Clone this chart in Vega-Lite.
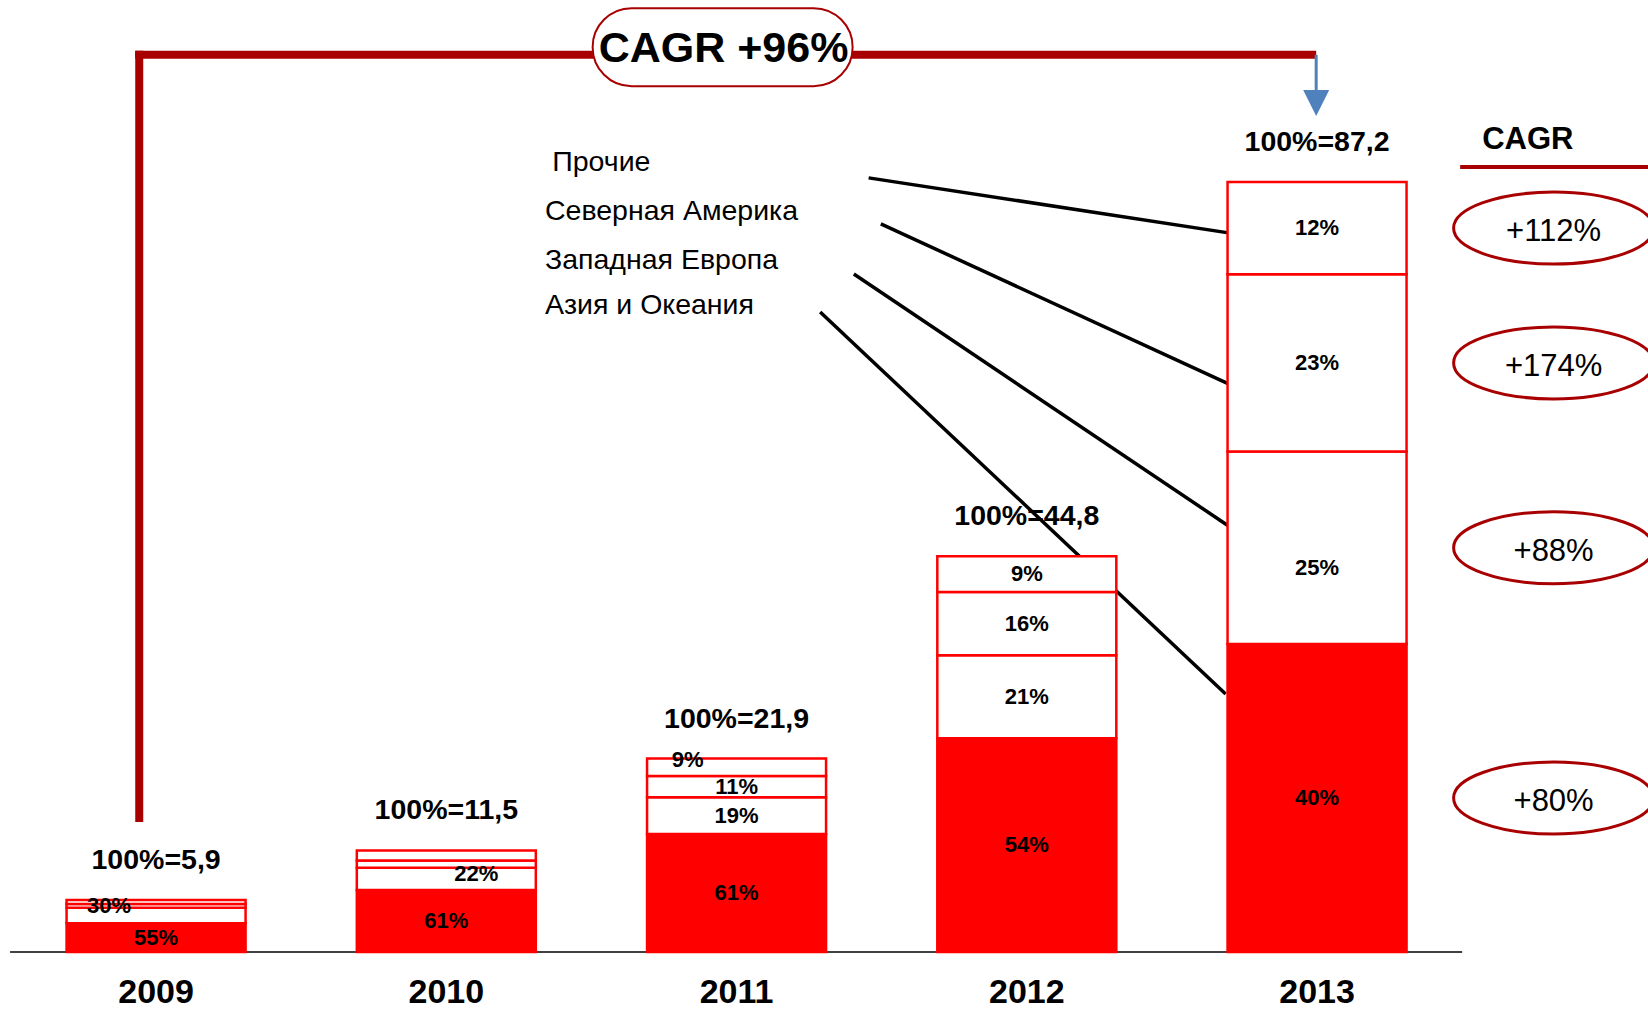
{
  "$schema": "https://vega.github.io/schema/vega-lite/v6.json",
  "width": 1648,
  "height": 1010,
  "autosize": {"type": "none"},
  "padding": 0,
  "background": "white",
  "config": {"view": {"stroke": null}, "font": "Liberation Sans"},
  "datasets": {
    "seg": [
      {"year": 2009, "region": "Азия и Океания", "value": 3.245, "label": "55%"},
      {"year": 2009, "region": "Западная Европа", "value": 1.77, "label": "30%"},
      {"year": 2009, "region": "Северная Америка", "value": 0.413, "label": ""},
      {"year": 2009, "region": "Прочие", "value": 0.472, "label": ""},
      {"year": 2010, "region": "Азия и Океания", "value": 7.015, "label": "61%"},
      {"year": 2010, "region": "Западная Европа", "value": 2.53, "label": "22%"},
      {"year": 2010, "region": "Северная Америка", "value": 0.805, "label": ""},
      {"year": 2010, "region": "Прочие", "value": 1.15, "label": ""},
      {"year": 2011, "region": "Азия и Океания", "value": 13.359, "label": "61%"},
      {"year": 2011, "region": "Западная Европа", "value": 4.161, "label": "19%"},
      {"year": 2011, "region": "Северная Америка", "value": 2.409, "label": "11%"},
      {"year": 2011, "region": "Прочие", "value": 1.971, "label": "9%"},
      {"year": 2012, "region": "Азия и Океания", "value": 24.192, "label": "54%"},
      {"year": 2012, "region": "Западная Европа", "value": 9.408, "label": "21%"},
      {"year": 2012, "region": "Северная Америка", "value": 7.168, "label": "16%"},
      {"year": 2012, "region": "Прочие", "value": 4.032, "label": "9%"},
      {"year": 2013, "region": "Азия и Океания", "value": 34.88, "label": "40%"},
      {"year": 2013, "region": "Западная Европа", "value": 21.8, "label": "25%"},
      {"year": 2013, "region": "Северная Америка", "value": 20.056, "label": "23%"},
      {"year": 2013, "region": "Прочие", "value": 10.464, "label": "12%"}
    ],
    "totals": [
      {"year": 2009, "total": 5.9, "label": "100%=5,9"},
      {"year": 2010, "total": 11.5, "label": "100%=11,5"},
      {"year": 2011, "total": 21.9, "label": "100%=21,9"},
      {"year": 2012, "total": 44.8, "label": "100%=44,8"},
      {"year": 2013, "total": 87.2, "label": "100%=87,2"}
    ],
    "leaders": [
      {"x": 2011.455, "y": 87.66, "x2": 2012.695, "y2": 81.43},
      {"x": 2011.497, "y": 82.45, "x2": 2012.695, "y2": 64.33},
      {"x": 2011.404, "y": 76.78, "x2": 2012.695, "y2": 48.24},
      {"x": 2011.288, "y": 72.48, "x2": 2012.685, "y2": 29.22}
    ],
    "bracket": [
      {"x": 2008.942, "y": 14.72, "x2": 2008.942, "y2": 102.04},
      {"x": 2008.928, "y": 101.59, "x2": 2012.997, "y2": 101.59}
    ],
    "cagr": [
      {"region": "Прочие", "cagr": "+112%"},
      {"region": "Северная Америка", "cagr": "+174%"},
      {"region": "Западная Европа", "cagr": "+88%"},
      {"region": "Азия и Океания", "cagr": "+80%"}
    ],
    "legend": [
      {"label": "Прочие", "x": 2010.365, "y": 89.47},
      {"label": "Северная Америка", "x": 2010.34, "y": 83.92},
      {"label": "Западная Европа", "x": 2010.34, "y": 78.41},
      {"label": "Азия и Океания", "x": 2010.34, "y": 73.29}
    ]
  },
  "layer": [
    {
      "data": {"values": [{}]},
      "mark": {"type": "rule", "color": "black", "strokeWidth": 1.5},
      "encoding": {
        "x": {"datum": 2008.497, "type": "quantitative", "scale": {"domain": [2008.4795, 2014.123], "nice": false, "zero": false}, "axis": null},
        "x2": {"datum": 2013.5},
        "y": {"datum": 0, "type": "quantitative", "scale": {"domain": [-6.57, 107.8], "nice": false, "zero": false}, "axis": null}
      }
    },
    {
      "data": {"name": "totals"},
      "mark": {"type": "text", "fontWeight": "bold", "fontSize": 28.5, "dy": -40, "baseline": "middle", "align": "center", "color": "black"},
      "encoding": {
        "x": {"field": "year", "type": "quantitative", "scale": {"domain": [2008.4795, 2014.123], "nice": false, "zero": false}, "axis": null},
        "y": {"field": "total", "type": "quantitative", "scale": {"domain": [-6.57, 107.8], "nice": false, "zero": false}, "axis": null},
        "text": {"field": "label"}
      }
    },
    {
      "data": {"name": "leaders"},
      "mark": {"type": "rule", "color": "black", "strokeWidth": 3.5},
      "encoding": {
        "x": {"field": "x", "type": "quantitative", "scale": {"domain": [2008.4795, 2014.123], "nice": false, "zero": false}, "axis": null},
        "y": {"field": "y", "type": "quantitative", "scale": {"domain": [-6.57, 107.8], "nice": false, "zero": false}, "axis": null},
        "x2": {"field": "x2"},
        "y2": {"field": "y2"}
      }
    },
    {
      "data": {"name": "seg"},
      "transform": [
        {"calculate": "indexof(['Азия и Океания','Западная Европа','Северная Америка','Прочие'], datum.region)", "as": "ord"}
      ],
      "mark": {"type": "bar", "width": 179, "stroke": "#FF0000", "strokeWidth": 2.5, "opacity": 1},
      "encoding": {
        "x": {"field": "year", "type": "quantitative", "scale": {"domain": [2008.4795, 2014.123], "nice": false, "zero": false}, "axis": null},
        "y": {"field": "value", "type": "quantitative", "stack": "zero", "scale": {"domain": [-6.57, 107.8], "nice": false, "zero": false}, "axis": null},
        "order": {"field": "ord", "type": "quantitative"},
        "fill": {"field": "region", "type": "nominal", "scale": {"domain": ["Азия и Океания", "Западная Европа", "Северная Америка", "Прочие"], "range": ["#FF0000", "#FFFFFF", "#FFFFFF", "#FFFFFF"]}, "legend": null}
      }
    },
    {
      "data": {"name": "seg"},
      "transform": [
        {"calculate": "indexof(['Азия и Океания','Западная Европа','Северная Америка','Прочие'], datum.region)", "as": "ord"},
        {"stack": "value", "groupby": ["year"], "sort": [{"field": "ord", "order": "ascending"}], "as": ["v0", "v1"]},
        {"calculate": "(datum.v0 + datum.v1) / 2", "as": "mid"},
        {"filter": "datum.label != ''"}
      ],
      "layer": [
        {
          "transform": [{"filter": "!((datum.year == 2009 && datum.ord == 1) || (datum.year == 2010 && datum.ord == 1) || (datum.year == 2011 && datum.ord == 3) || (datum.year == 2013 && datum.ord == 1))"}],
          "mark": {"type": "text", "fontWeight": "bold", "fontSize": 22, "baseline": "middle", "align": "center", "color": "black"},
          "encoding": {
            "x": {"field": "year", "type": "quantitative", "scale": {"domain": [2008.4795, 2014.123], "nice": false, "zero": false}, "axis": null},
            "y": {"field": "mid", "type": "quantitative", "scale": {"domain": [-6.57, 107.8], "nice": false, "zero": false}, "axis": null},
            "text": {"field": "label"}
          }
        },
        {
          "transform": [{"filter": "datum.year == 2009 && datum.ord == 1"}],
          "mark": {"type": "text", "fontWeight": "bold", "fontSize": 22, "baseline": "middle", "align": "center", "color": "black", "dx": -47, "dy": -10},
          "encoding": {
            "x": {"field": "year", "type": "quantitative", "scale": {"domain": [2008.4795, 2014.123], "nice": false, "zero": false}, "axis": null},
            "y": {"field": "mid", "type": "quantitative", "scale": {"domain": [-6.57, 107.8], "nice": false, "zero": false}, "axis": null},
            "text": {"field": "label"}
          }
        },
        {
          "transform": [{"filter": "datum.year == 2010 && datum.ord == 1"}],
          "mark": {"type": "text", "fontWeight": "bold", "fontSize": 22, "baseline": "middle", "align": "center", "color": "black", "dx": 30, "dy": -5},
          "encoding": {
            "x": {"field": "year", "type": "quantitative", "scale": {"domain": [2008.4795, 2014.123], "nice": false, "zero": false}, "axis": null},
            "y": {"field": "mid", "type": "quantitative", "scale": {"domain": [-6.57, 107.8], "nice": false, "zero": false}, "axis": null},
            "text": {"field": "label"}
          }
        },
        {
          "transform": [{"filter": "datum.year == 2011 && datum.ord == 3"}],
          "mark": {"type": "text", "fontWeight": "bold", "fontSize": 22, "baseline": "middle", "align": "center", "color": "black", "dx": -49, "dy": -7},
          "encoding": {
            "x": {"field": "year", "type": "quantitative", "scale": {"domain": [2008.4795, 2014.123], "nice": false, "zero": false}, "axis": null},
            "y": {"field": "mid", "type": "quantitative", "scale": {"domain": [-6.57, 107.8], "nice": false, "zero": false}, "axis": null},
            "text": {"field": "label"}
          }
        },
        {
          "transform": [{"filter": "datum.year == 2013 && datum.ord == 1"}],
          "mark": {"type": "text", "fontWeight": "bold", "fontSize": 22, "baseline": "middle", "align": "center", "color": "black", "dy": 20},
          "encoding": {
            "x": {"field": "year", "type": "quantitative", "scale": {"domain": [2008.4795, 2014.123], "nice": false, "zero": false}, "axis": null},
            "y": {"field": "mid", "type": "quantitative", "scale": {"domain": [-6.57, 107.8], "nice": false, "zero": false}, "axis": null},
            "text": {"field": "label"}
          }
        }
      ]
    },
    {
      "data": {"name": "totals"},
      "mark": {"type": "text", "fontWeight": "bold", "fontSize": 34, "baseline": "middle", "align": "center", "color": "black"},
      "encoding": {
        "x": {"field": "year", "type": "quantitative", "scale": {"domain": [2008.4795, 2014.123], "nice": false, "zero": false}, "axis": null},
        "y": {"datum": -4.64, "type": "quantitative", "scale": {"domain": [-6.57, 107.8], "nice": false, "zero": false}, "axis": null},
        "text": {"field": "year", "type": "nominal"}
      }
    },
    {
      "data": {"name": "bracket"},
      "mark": {"type": "rule", "color": "#A80000", "strokeWidth": 8, "strokeCap": "butt"},
      "encoding": {
        "x": {"field": "x", "type": "quantitative", "scale": {"domain": [2008.4795, 2014.123], "nice": false, "zero": false}, "axis": null},
        "y": {"field": "y", "type": "quantitative", "scale": {"domain": [-6.57, 107.8], "nice": false, "zero": false}, "axis": null},
        "x2": {"field": "x2"},
        "y2": {"field": "y2"}
      }
    },
    {
      "data": {"values": [{"label": "CAGR +96%"}]},
      "mark": {"type": "point", "shape": "M -0.7 -0.3 L 0.7 -0.3 A 0.3 0.3 0 0 1 0.7 0.3 L -0.7 0.3 A 0.3 0.3 0 0 1 -0.7 -0.3 Z", "size": 67600, "filled": true, "fill": "white", "stroke": "#A80000", "strokeWidth": 2, "opacity": 1},
      "encoding": {
        "x": {"datum": 2010.952, "type": "quantitative", "scale": {"domain": [2008.4795, 2014.123], "nice": false, "zero": false}, "axis": null},
        "y": {"datum": 102.46, "type": "quantitative", "scale": {"domain": [-6.57, 107.8], "nice": false, "zero": false}, "axis": null}
      }
    },
    {
      "data": {"values": [{"label": "CAGR +96%"}]},
      "mark": {"type": "text", "fontWeight": "bold", "fontSize": 43, "baseline": "middle", "align": "center", "color": "black"},
      "encoding": {
        "x": {"datum": 2010.955, "type": "quantitative", "scale": {"domain": [2008.4795, 2014.123], "nice": false, "zero": false}, "axis": null},
        "y": {"datum": 102.3, "type": "quantitative", "scale": {"domain": [-6.57, 107.8], "nice": false, "zero": false}, "axis": null},
        "text": {"field": "label"}
      }
    },
    {
      "data": {"values": [{}]},
      "mark": {"type": "rule", "color": "#4F81BD", "strokeWidth": 3},
      "encoding": {
        "x": {"datum": 2012.997, "type": "quantitative", "scale": {"domain": [2008.4795, 2014.123], "nice": false, "zero": false}, "axis": null},
        "y": {"datum": 101.59, "type": "quantitative", "scale": {"domain": [-6.57, 107.8], "nice": false, "zero": false}, "axis": null},
        "y2": {"datum": 97.0}
      }
    },
    {
      "data": {"values": [{}]},
      "mark": {"type": "point", "shape": "M -1 -1 L 1 -1 L 0 1 Z", "size": 676, "filled": true, "fill": "#4F81BD", "strokeWidth": 0, "opacity": 1},
      "encoding": {
        "x": {"datum": 2012.997, "type": "quantitative", "scale": {"domain": [2008.4795, 2014.123], "nice": false, "zero": false}, "axis": null},
        "y": {"datum": 96.15, "type": "quantitative", "scale": {"domain": [-6.57, 107.8], "nice": false, "zero": false}, "axis": null}
      }
    },
    {
      "data": {"name": "legend"},
      "mark": {"type": "text", "fontSize": 28.5, "baseline": "middle", "align": "left", "color": "black"},
      "encoding": {
        "x": {"field": "x", "type": "quantitative", "scale": {"domain": [2008.4795, 2014.123], "nice": false, "zero": false}, "axis": null},
        "y": {"field": "y", "type": "quantitative", "scale": {"domain": [-6.57, 107.8], "nice": false, "zero": false}, "axis": null},
        "text": {"field": "label"}
      }
    },
    {
      "data": {"values": [{"label": "CAGR"}]},
      "mark": {"type": "text", "fontWeight": "bold", "fontSize": 31, "baseline": "middle", "align": "center", "color": "black"},
      "encoding": {
        "x": {"datum": 2013.726, "type": "quantitative", "scale": {"domain": [2008.4795, 2014.123], "nice": false, "zero": false}, "axis": null},
        "y": {"datum": 91.96, "type": "quantitative", "scale": {"domain": [-6.57, 107.8], "nice": false, "zero": false}, "axis": null},
        "text": {"field": "label"}
      }
    },
    {
      "data": {"values": [{}]},
      "mark": {"type": "rule", "color": "#A80000", "strokeWidth": 4, "strokeCap": "butt"},
      "encoding": {
        "x": {"datum": 2013.493, "type": "quantitative", "scale": {"domain": [2008.4795, 2014.123], "nice": false, "zero": false}, "axis": null},
        "x2": {"datum": 2014.2},
        "y": {"datum": 88.9, "type": "quantitative", "scale": {"domain": [-6.57, 107.8], "nice": false, "zero": false}, "axis": null}
      }
    },
    {
      "data": {"name": "seg"},
      "transform": [
        {"calculate": "indexof(['Азия и Океания','Западная Европа','Северная Америка','Прочие'], datum.region)", "as": "ord"},
        {"stack": "value", "groupby": ["year"], "sort": [{"field": "ord", "order": "ascending"}], "as": ["v0", "v1"]},
        {"filter": "datum.year == 2013"},
        {"lookup": "region", "from": {"data": {"name": "cagr"}, "key": "region", "fields": ["cagr"]}},
        {"calculate": "(datum.v0 + datum.v1) / 2", "as": "mid"}
      ],
      "layer": [
        {
          "mark": {"type": "point", "shape": "M -1 0 A 1 0.36 0 1 1 1 0 A 1 0.36 0 1 1 -1 0 Z", "size": 40000, "filled": true, "fill": "white", "stroke": "#A80000", "strokeWidth": 3, "opacity": 1},
          "encoding": {
            "x": {"datum": 2013.815, "type": "quantitative", "scale": {"domain": [2008.4795, 2014.123], "nice": false, "zero": false}, "axis": null},
            "y": {"field": "mid", "type": "quantitative", "scale": {"domain": [-6.57, 107.8], "nice": false, "zero": false}, "axis": null}
          }
        },
        {
          "mark": {"type": "text", "fontSize": 31, "baseline": "middle", "align": "center", "color": "black", "dy": 4},
          "encoding": {
            "x": {"datum": 2013.815, "type": "quantitative", "scale": {"domain": [2008.4795, 2014.123], "nice": false, "zero": false}, "axis": null},
            "y": {"field": "mid", "type": "quantitative", "scale": {"domain": [-6.57, 107.8], "nice": false, "zero": false}, "axis": null},
            "text": {"field": "cagr"}
          }
        }
      ]
    }
  ]
}
